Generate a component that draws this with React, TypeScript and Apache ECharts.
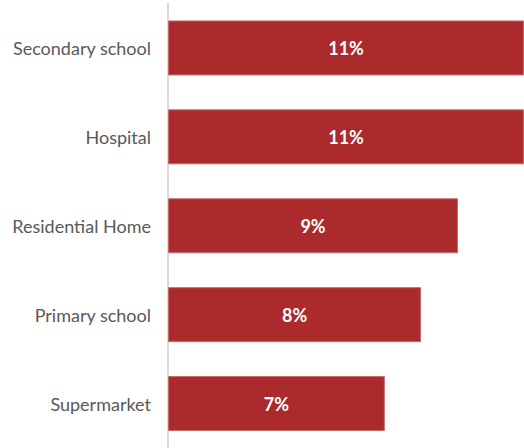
import React, { useEffect, useRef } from "react";
import * as echarts from "echarts";

const categories = ["Secondary school", "Hospital", "Residential Home", "Primary school", "Supermarket"];
const values = [11.0, 11.0, 8.96, 7.82, 6.7];

export default function App() {
  const ref = useRef<HTMLDivElement>(null);
  useEffect(() => {
    const chart = echarts.init(ref.current!, null, { renderer: "svg" });
    chart.setOption({
      animation: false,
      grid: { left: 168, right: 0, top: 3.5, height: 450, containLabel: false },
      xAxis: { type: "value", min: 0, max: 11, show: false },
      yAxis: {
        type: "category",
        data: categories,
        inverse: true,
        axisLine: { show: true, lineStyle: { color: "#d9d9d9", width: 2 } },
        axisTick: { show: false },
        axisLabel: { color: "#595959", fontSize: 18, fontFamily: "Lato", margin: 17 },
      },
      series: [
        {
          type: "bar",
          data: values,
          barWidth: 55,
          itemStyle: { color: "#ab2a2c", borderColor: "#c86a6c", borderWidth: 1 },
          label: {
            show: true,
            position: "inside",
            color: "#ffffff",
            fontWeight: "bold",
            fontSize: 18,
            fontFamily: "Lato",
            formatter: (p: any) => Math.round(p.value) + "%",
          },
        },
      ],
    });
    return () => chart.dispose();
  }, []);
  return <div ref={ref} style={{ width: 524, height: 448, position: "absolute", left: 0, top: 0 }} />;
}
